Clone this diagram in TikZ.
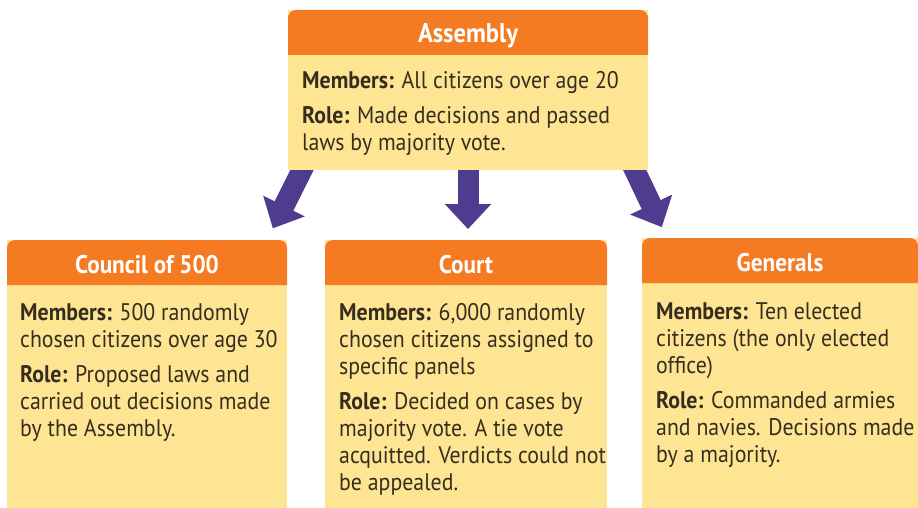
\documentclass[tikz,border=0pt]{standalone}
\usepackage{fontspec}
\setmainfont[FakeStretch=0.91]{PT Sans}
\usetikzlibrary{arrows.meta,calc}
\definecolor{hdr}{HTML}{F47B22}
\definecolor{bdy}{HTML}{FEE594}
\definecolor{arr}{HTML}{4F3C8E}
\definecolor{txt}{HTML}{362D1E}
\tikzset{
  panel/.style={inner sep=0pt, outer sep=0pt, anchor=north west},
  hdrtext/.style={text=white, inner sep=0pt, font=\bfseries\fontsize{25.5}{28}\selectfont},
  bodytext/.style={text=txt, anchor=north west, align=left, inner sep=0pt, font=\fontsize{24}{27}\selectfont},
  bigarrow/.style={draw=arr, line width=21pt, -{Triangle[width=45pt,length=25pt]}},
}
\newcommand\drawpanel[2]{% #1 node name, #2 header height
  \fill[bdy] (#1.north west) rectangle (#1.south east);
  \fill[hdr] ($(#1.north west)+(0,-#2)$) -- ($(#1.north west)+(0,-8)$)
     arc[start angle=180,end angle=90,radius=8] -- ($(#1.north east)+(-8,0)$)
     arc[start angle=90,end angle=0,radius=8] -- ($(#1.north east)+(0,-#2)$) -- cycle;
}
\begin{document}
\begin{tikzpicture}[x=1pt,y=1pt]
\useasboundingbox (0,0) rectangle (918,-508);
% panels (frames)
\node[panel, minimum width=360pt, minimum height=160pt] (asm) at (288,-10) {};
\node[panel, minimum width=280pt, minimum height=268pt] (cou) at (7,-240) {};
\node[panel, minimum width=282pt, minimum height=268pt] (crt) at (325,-240) {};
\node[panel, minimum width=276pt, minimum height=270pt] (gen) at (642,-238) {};
% arrows (drawn first so their tails hide under the Assembly panel)
\draw[bigarrow, shorten >=13pt] ([xshift=-161pt,yshift=10pt]asm.south) -- ([xshift=-20pt]cou.north east);
\draw[bigarrow, shorten >=11pt] ([yshift=10pt]asm.south) -- (asm.south |- crt.north);
\draw[bigarrow, shorten >=12pt] ([xshift=162pt,yshift=10pt]asm.south) -- ([xshift=25pt]gen.north west);
% panel fills
\drawpanel{asm}{45}
\drawpanel{cou}{45}
\drawpanel{crt}{45}
\drawpanel{gen}{45}
% titles
\node[hdrtext, font=\bfseries\fontsize{27}{30}\selectfont] (asmT) at ($(asm.north)+(0,-26)$) {Assembly};
\node[hdrtext] (couT) at ($(cou.north)+(0,-25)$) {Council of 500};
\node[hdrtext] (crtT) at ($(crt.north)+(0,-25)$) {Court};
\node[hdrtext] (genT) at ($(gen.north)+(0,-25)$) {Generals};
% body texts
\node[bodytext] (asmB) at (302,-71) {\textbf{Members:} All citizens over age 20\\[8pt]
  \textbf{Role:} Made decisions and passed\\laws by majority vote.};
\node[bodytext] (couB) at (20,-303) {\textbf{Members:} 500 randomly\\chosen citizens over age 30\\[8pt]
  \textbf{Role:} Proposed laws and\\carried out decisions made\\by the Assembly.};
\node[bodytext] (crtB) at (339,-303) {\textbf{Members:} 6,000 randomly\\chosen citizens assigned to\\specific panels\\[8pt]
  \textbf{Role:} Decided on cases by\\majority vote. A tie vote\\acquitted. Verdicts could not\\be appealed.};
\node[bodytext] (genB) at (656,-302) {\textbf{Members:} Ten elected\\citizens (the only elected\\office)\\[8pt]
  \textbf{Role:} Commanded armies\\and navies. Decisions made\\by a majority.};
\end{tikzpicture}
\end{document}
